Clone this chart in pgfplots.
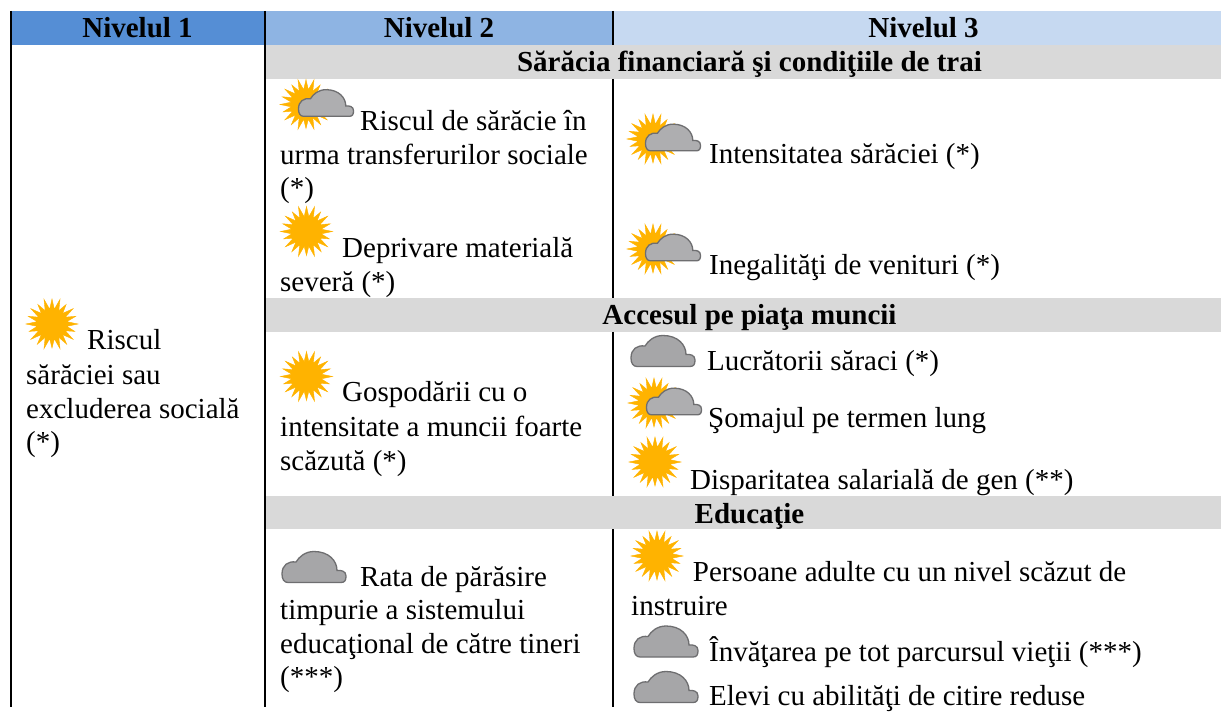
\documentclass[border=0pt]{standalone}
\usepackage{fontspec}
\setmainfont{Liberation Serif}
\usepackage{pgfplots}
\pgfplotsset{compat=1.18}
\definecolor{hA}{HTML}{558ED5}
\definecolor{hB}{HTML}{8EB4E3}
\definecolor{hC}{HTML}{C6D9F1}
\definecolor{band}{HTML}{D9D9D9}
\definecolor{sunc}{HTML}{FFB300}
\definecolor{cloudf}{HTML}{A6A6A8}
\definecolor{cloudg}{HTML}{AEAEB0}
\definecolor{cloudd}{HTML}{6E6E70}
\newcommand{\sunpath}{%
  \fill[sunc] (0:26) \foreach \a/\r in {9/15,18/25,27/15,36/26,45/15,54/24,63/15,72/26,81/15,90/25,99/15,108/26,117/15,126/24,135/15,144/26,153/15,162/25,171/15,180/26,189/15,198/24,207/15,216/26,225/15,234/25,243/15,252/26,261/15,270/24,279/15,288/26,297/15,306/25,315/15,324/26,333/15,342/24,351/15} {-- (\a:\r)} -- cycle;}
\pgfdeclareplotmark{sunmark}{\begin{scope}[x=1pt,y=1pt]\sunpath\end{scope}}
\pgfdeclareplotmark{cloudmark}{\begin{scope}[x=1pt,y=1pt]
  \filldraw[fill=cloudf,draw=cloudd,line width=1.3] (-26,-15.5) -- (27,-15.5) .. controls (31,-15.5) and (32,-13) .. (32,-9) .. controls (32,-4) and (27,-3) .. (23,-3.5) .. controls (23,6) and (15,15.5) .. (0,15.5) .. controls (-9,15.5) and (-15,10) .. (-18,5) .. controls (-26,6) and (-32,2) .. (-32,-7) .. controls (-32,-12) and (-30,-15.5) .. (-26,-15.5) -- cycle;\end{scope}}
\pgfdeclareplotmark{suncloudmark}{\begin{scope}[x=1pt,y=1pt]\sunpath
  \filldraw[fill=cloudg,draw=cloudd,line width=1.3] (-2.36,-11.83) -- (43.22,-11.83) .. controls (46.66,-11.83) and (47.52,-9.68) .. (47.52,-6.24) .. controls (47.52,-1.94) and (43.22,-1.08) .. (39.78,-1.51) .. controls (39.78,6.66) and (32.9,14.83) .. (20,14.83) .. controls (12.26,14.83) and (7.1,10.1) .. (4.52,5.8) .. controls (-2.36,6.66) and (-7.52,3.22) .. (-7.52,-4.52) .. controls (-7.52,-8.82) and (-5.8,-11.83) .. (-2.36,-11.83) -- cycle;\end{scope}}
\newcommand{\tb}[3]{\node[anchor=base,inner sep=0pt,font=\fontsize{29}{33}\selectfont\bfseries] at (axis cs:#1,#2) {#3};}
\newcommand{\tl}[3]{\node[anchor=base west,inner sep=0pt,font=\fontsize{29}{33}\selectfont] at (axis cs:#1,#2) {#3};}
\begin{document}
\begin{tikzpicture}
\begin{axis}[
  scale only axis, width=1221pt, height=707pt,
  xmin=0, xmax=1221, ymin=0, ymax=707, y dir=reverse,
  hide axis, clip=false,
  every axis plot/.append style={forget plot},
]
% full page background, keeps the bounding box
\addplot[fill=white,draw=none] coordinates {(0,0) (1221,0) (1221,707) (0,707)} --cycle;
% header cells and bands
\addplot[fill=hA,draw=none] coordinates {(11,11) (265,11) (265,45) (11,45)} --cycle;
\addplot[fill=hB,draw=none] coordinates {(265,11) (613,11) (613,45) (265,45)} --cycle;
\addplot[fill=hC,draw=none] coordinates {(613,11) (1221,11) (1221,45) (613,45)} --cycle;
\addplot[fill=band,draw=none] coordinates {(265,45) (1221,45) (1221,79) (265,79)} --cycle;
\addplot[fill=band,draw=none] coordinates {(265,298) (1221,298) (1221,332) (265,332)} --cycle;
\addplot[fill=band,draw=none] coordinates {(265,496) (1221,496) (1221,529) (265,529)} --cycle;
% rules
\addplot[black,line width=1.8] coordinates {(11,11) (11,707)};
\addplot[black,line width=1.8] coordinates {(265,11) (265,707)};
\addplot[black,line width=1.8] coordinates {(613,11) (613,45)};
\addplot[black,line width=1.8] coordinates {(613,79) (613,298)};
\addplot[black,line width=1.8] coordinates {(613,332) (613,496)};
\addplot[black,line width=1.8] coordinates {(613,529) (613,707)};
% icons
\addplot[only marks,mark=sunmark] coordinates {(52,324) (306.5,231.5) (306.5,376.5) (655,462) (657,556)};
\addplot[only marks,mark=suncloudmark] coordinates {(306,104.5) (653,139) (653,249) (654,403)};
\addplot[only marks,mark=cloudmark] coordinates {(663,351) (314,567) (666,641.5) (666,687)};
% text
\tb{137.5}{38}{Nivelul 1}
\tb{439}{38}{Nivelul 2}
\tb{923.5}{38}{Nivelul 3}
\tb{749.5}{72}{Sărăcia financiară şi condiţiile de trai}
\tb{749.5}{325}{Accesul pe piaţa muncii}
\tb{749.5}{523}{Educaţie}
\tl{87}{350}{Riscul}
\tl{26}{385}{sărăciei sau}
\tl{26}{418}{excluderea socială}
\tl{26}{451.7}{(*)}
\tl{360}{130.7}{Riscul de sărăcie în}
\tl{280}{164.5}{urma transferurilor sociale}
\tl{280}{198}{(*)}
\tl{342}{258}{Deprivare materială}
\tl{280}{291.7}{severă (*)}
\tl{342}{402}{Gospodării cu o}
\tl{280}{436.7}{intensitate a muncii foarte}
\tl{280}{470.7}{scăzută (*)}
\tl{360}{586}{Rata de părăsire}
\tl{280}{619}{timpurie a sistemului}
\tl{280}{653}{educaţional de către tineri}
\tl{280}{686.7}{(***)}
\tl{709}{164}{Intensitatea sărăciei (*)}
\tl{709}{275}{Inegalităţi de venituri (*)}
\tl{707}{370.5}{Lucrătorii săraci (*)}
\tl{708}{428}{Şomajul pe termen lung}
\tl{690}{489.3}{Disparitatea salarială de gen (**)}
\tl{692.7}{581.7}{Persoane adulte cu un nivel scăzut de}
\tl{631}{615}{instruire}
\tl{709}{661.7}{Învăţarea pe tot parcursul vieţii (***)}
\tl{709}{705.5}{Elevi cu abilităţi de citire reduse}
\end{axis}
\end{tikzpicture}
\end{document}
